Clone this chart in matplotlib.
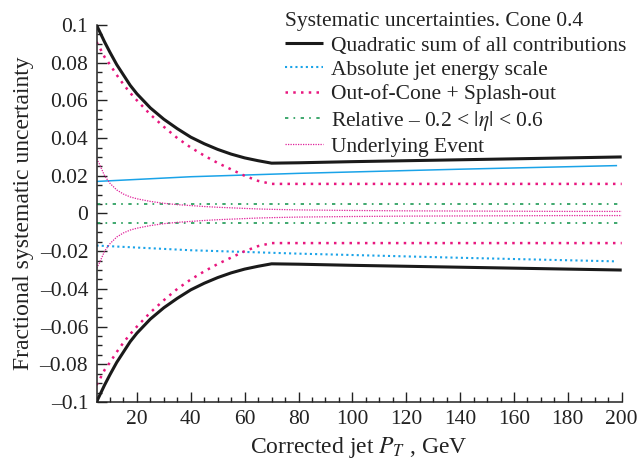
import matplotlib
matplotlib.use("Agg")
import matplotlib.pyplot as plt
from matplotlib.ticker import MultipleLocator, FuncFormatter

plt.rcParams['font.family'] = ['Liberation Serif', 'DejaVu Serif']
plt.rcParams['mathtext.fontset'] = 'stix'

# ---- data ----
pt = [5, 6, 8, 10, 12.5, 15, 17.5, 20, 25, 30, 35, 40, 45, 50, 55, 60, 65, 70,
      80, 100, 120, 140, 160, 180, 200]
quad_sum = [0.100, 0.097, 0.091, 0.0855, 0.079, 0.0735, 0.068, 0.0635, 0.056, 0.050,
            0.045, 0.0405, 0.037, 0.034, 0.0315, 0.0295, 0.028, 0.0267,
            0.0269, 0.0275, 0.028, 0.0285, 0.029, 0.0295, 0.030]
out_of_cone = [0.091, 0.0885, 0.083, 0.079, 0.0735, 0.0685, 0.064, 0.060, 0.0525, 0.046,
               0.040, 0.035, 0.0307, 0.0268, 0.0234, 0.020, 0.0173, 0.0157,
               0.0157, 0.0157, 0.0157, 0.0157, 0.0157, 0.0157, 0.0157]
underlying = [0.029, 0.0265, 0.020, 0.016, 0.0125, 0.0103, 0.0088, 0.0078, 0.0064, 0.0054,
              0.0047, 0.0042, 0.0037, 0.0033, 0.0030, 0.0027, 0.0024, 0.0022,
              0.0019, 0.0016, 0.0014, 0.0013, 0.0012, 0.0011, 0.0011]
abs_pt = [5, 40, 80, 140, 198]
abs_jes = [0.017, 0.0195, 0.0213, 0.0235, 0.0254]
rel_pt = [5, 200]
relative = [0.005, 0.005]

labels = ["Quadratic sum of all contributions", "Absolute jet energy scale",
          "Out-of-Cone + Splash-out", r"Relative – 0.2 < $|\eta|$ < 0.6",
          "Underlying Event"]
legend_title = "Systematic uncertainties. Cone 0.4"

c_black = "#1a1a1a"
c_cyan = "#1aa3e8"
c_pink = "#e8177f"
c_green = "#1e9a55"
c_ue = "#e0209a"

fig = plt.figure(figsize=(6.37, 4.62), dpi=100)
ax = fig.add_axes([0.1515, 0.1299, 0.8245, 0.816])

neg = lambda v: [-a for a in v]

h1, = ax.plot(pt, quad_sum, color=c_black, lw=2.2, solid_capstyle='butt')
ax.plot(pt, neg(quad_sum), color=c_black, lw=2.2, solid_capstyle='butt')

ax.plot(abs_pt, abs_jes, color=c_cyan, lw=1.1)
h2, = ax.plot(abs_pt, neg(abs_jes), color=c_cyan, lw=1.5, dashes=(1, 1.5))

h3, = ax.plot(pt, out_of_cone, color=c_pink, lw=1.8, dashes=(1, 2.1))
ax.plot(pt, neg(out_of_cone), color=c_pink, lw=1.8, dashes=(1, 2.1))

h4, = ax.plot(rel_pt, relative, color=c_green, lw=1.2, dashes=(2, 3.1, 1, 3.3))
ax.plot(rel_pt, neg(relative), color=c_green, lw=1.2, dashes=(2, 3.1, 1, 3.3))

h5, = ax.plot(pt, underlying, color=c_ue, lw=0.9, dashes=(1, 1))
ax.plot(pt, neg(underlying), color=c_ue, lw=0.9, dashes=(1, 1))

ax.set_xlim(5, 200)
ax.set_ylim(-0.1, 0.1)
ax.xaxis.set_major_locator(MultipleLocator(20))
ax.xaxis.set_minor_locator(MultipleLocator(5))
ax.yaxis.set_major_locator(MultipleLocator(0.02))
ax.yaxis.set_minor_locator(MultipleLocator(0.005))

def yfmt(v, pos):
    if abs(v) < 1e-9:
        return "0"
    s = ("%.2f" % abs(v)).rstrip('0')
    return ("\u2013" if v < 0 else "") + s
ax.yaxis.set_major_formatter(FuncFormatter(yfmt))

for s in ['top', 'right']:
    ax.spines[s].set_visible(False)
for s in ['left', 'bottom']:
    ax.spines[s].set_linewidth(1.1)
    ax.spines[s].set_color("#222222")
ax.tick_params(which='both', direction='in', width=1.0, colors="#222222",
               labelsize=15.5, labelcolor="#222222")
ax.tick_params(which='major', length=7, pad=6)
ax.tick_params(which='minor', length=3.8)

ax.set_xlabel(r"Corrected jet $P_T$ , GeV", fontsize=17, color="#222222", labelpad=4)
ax.set_ylabel("Fractional systematic uncertainty", fontsize=17, color="#222222", labelpad=4)

leg = ax.legend([h1, h2, h3, h4, h5], labels, title=legend_title,
                loc='upper left', bbox_to_anchor=(0.359, 1.034),
                frameon=False, fontsize=15.5, title_fontsize=15.5,
                handlelength=1.75, handletextpad=0.4, labelspacing=0.2,
                borderaxespad=0, borderpad=0, alignment='left')
for t in leg.get_texts():
    t.set_color("#222222")
leg.get_title().set_color("#222222")

fig.savefig("out.png", dpi=100)
